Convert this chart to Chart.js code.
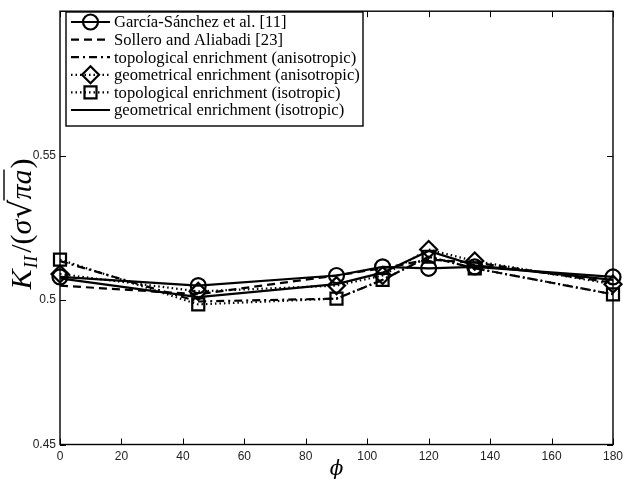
<!DOCTYPE html>
<html>
<head>
<meta charset="utf-8">
<script src="https://cdn.jsdelivr.net/npm/chart.js@4.4.1/dist/chart.umd.min.js"></script>
<style>
  html, body { margin: 0; padding: 0; background: #fff; }
  #wrap { width: 628px; height: 481px; }
</style>
</head>
<body>
<div id="wrap"><canvas id="chart"></canvas></div>
<script>
// crack angle phi and K_II / (sigma sqrt(pi a)) for each method
const phi = [0, 45, 90, 105, 120, 135, 180];
const garciaSanchez = [0.508, 0.505, 0.5085, 0.5115, 0.511, 0.5115, 0.508];
const sollero = [0.505, 0.502, 0.5085, 0.511, 0.514, 0.513, 0.506];
const topoAniso = [0.5135, 0.4995, 0.5005, 0.507, 0.515, 0.511, 0.502];
const geomAniso = [0.509, 0.503, 0.505, 0.5085, 0.5175, 0.5135, 0.5055];
const topoIso = [0.514, 0.4985, 0.5005, 0.507, 0.515, 0.511, 0.502];
const geomIso = [0.5075, 0.501, 0.5055, 0.5095, 0.517, 0.512, 0.507];

const seriesLabels = [
  "García-Sánchez et al. [11]",
  "Sollero and Aliabadi [23]",
  "topological enrichment (anisotropic)",
  "geometrical enrichment (anisotropic)",
  "topological enrichment (isotropic)",
  "geometrical enrichment (isotropic)"
];

const xTicks = [0, 20, 40, 60, 80, 100, 120, 140, 160, 180];
const yTicks = [0.45, 0.5, 0.55, 0.6];
const yTickLabels = ["0.45", "0.5", "0.55", ""];

function pts(values) {
  return phi.map((p, i) => ({ x: p, y: values[i] }));
}

function series(label, values, dash, style, radius) {
  return {
    label,
    data: pts(values),
    borderColor: "#000",
    borderWidth: 2.2,
    borderDash: dash,
    pointStyle: style || false,
    pointRadius: style ? radius : 0,
    pointBorderWidth: 2.2,
    pointBorderColor: "#000",
    pointBackgroundColor: "rgba(255,255,255,0)",
    tension: 0,
    clip: false
  };
}

const datasets = [
  series(seriesLabels[0], garciaSanchez, [], "circle", 7.5),
  series(seriesLabels[1], sollero, [8, 5], null, 0),
  series(seriesLabels[2], topoAniso, [8, 4, 2, 4], null, 0),
  series(seriesLabels[3], geomAniso, [1.5, 3], "rectRot", 8.5),
  series(seriesLabels[4], topoIso, [1.5, 3], "rect", 8.5),
  series(seriesLabels[5], geomIso, [], null, 0)
];

/* ===========================
   FRAME, LEGEND, AXIS TITLES
=========================== */

const decorPlugin = {
  id: "decor",
  afterDraw(chart) {
    const ctx = chart.ctx;
    const a = chart.chartArea;
    const xs = chart.scales.x;
    const ys = chart.scales.y;

    // box with inward ticks on all sides
    ctx.save();
    ctx.strokeStyle = "#000";
    ctx.lineWidth = 1.4;
    ctx.strokeRect(a.left, a.top, a.right - a.left, a.bottom - a.top);
    ctx.lineWidth = 1;
    ctx.beginPath();
    xTicks.forEach((t) => {
      const px = Math.round(xs.getPixelForValue(t)) + 0.5;
      ctx.moveTo(px, a.bottom); ctx.lineTo(px, a.bottom - 6);
      ctx.moveTo(px, a.top); ctx.lineTo(px, a.top + 6);
    });
    yTicks.forEach((t) => {
      const py = Math.round(ys.getPixelForValue(t)) + 0.5;
      ctx.moveTo(a.left, py); ctx.lineTo(a.left + 6, py);
      ctx.moveTo(a.right, py); ctx.lineTo(a.right - 6, py);
    });
    ctx.stroke();

    // legend
    const lx = 66, ly = 12, lw = 297, lh = 114;
    ctx.fillStyle = "#fff";
    ctx.fillRect(lx, ly, lw, lh);
    ctx.lineWidth = 1.4;
    ctx.strokeRect(lx, ly, lw, lh);

    let fs = 17;
    ctx.font = `${fs}px "Liberation Serif"`;
    const longest = Math.max(...seriesLabels.map((s) => ctx.measureText(s).width));
    fs = fs * 246 / longest;
    ctx.font = `${fs}px "Liberation Serif"`;
    ctx.textBaseline = "middle";
    ctx.textAlign = "left";

    chart.data.datasets.forEach((ds, i) => {
      const y = 22 + i * 17.6;
      ctx.strokeStyle = "#000";
      ctx.lineWidth = 2.2;
      ctx.setLineDash(ds.borderDash || []);
      ctx.beginPath();
      ctx.moveTo(71, y); ctx.lineTo(110, y);
      ctx.stroke();
      ctx.setLineDash([]);
      if (ds.pointStyle) {
        ctx.fillStyle = "rgba(255,255,255,0)";
        ctx.lineWidth = 2.2;
        Chart.helpers.drawPoint(ctx, {
          pointStyle: ds.pointStyle, radius: ds.pointRadius, borderWidth: 2.2, rotation: 0
        }, 90.5, y);
      }
      ctx.fillStyle = "#000";
      ctx.fillText(ds.label, 114, y + 1);
    });

    // y axis title: K_II / (sigma sqrt(pi a))
    ctx.save();
    ctx.translate(22, 224);
    ctx.rotate(-Math.PI / 2);
    ctx.fillStyle = "#000";
    ctx.strokeStyle = "#000";
    ctx.textBaseline = "alphabetic";
    const big = 30, small = 19;
    const parts = [
      { t: "K", f: `italic ${big}px "Liberation Serif"`, dy: 0 },
      { t: "II", f: `italic ${small}px "Liberation Serif"`, dy: 6, pad: 1 },
      { t: "/(", f: `${big}px "Liberation Serif"`, dy: 0, pad: 3 },
      { t: "σ", f: `italic ${big}px "Liberation Serif"`, dy: 0 },
      { t: "√", f: `${big}px "DejaVu Serif"`, dy: 0, pad: 1 },
      { t: "πa", f: `italic ${big}px "Liberation Serif"`, dy: 0, bar: true },
      { t: ")", f: `${big}px "Liberation Serif"`, dy: 0, pad: 1 }
    ];
    let total = 0;
    parts.forEach((p) => {
      ctx.font = p.f;
      p.w = ctx.measureText(p.t).width + (p.pad || 0);
      total += p.w;
    });
    let cx = -total / 2;
    parts.forEach((p) => {
      ctx.font = p.f;
      ctx.fillText(p.t, cx + (p.pad || 0), p.dy + 9);
      if (p.bar) {
        ctx.lineWidth = 1.4;
        ctx.beginPath();
        ctx.moveTo(cx - 1, -18);
        ctx.lineTo(cx + p.w, -18);
        ctx.stroke();
      }
      cx += p.w;
    });
    ctx.restore();

    // x axis title
    ctx.font = `italic 20px "DejaVu Serif"`;
    ctx.textAlign = "center";
    ctx.textBaseline = "middle";
    ctx.fillStyle = "#000";
    ctx.fillText("ϕ", (a.left + a.right) / 2, 470);

    ctx.restore();
  }
};

/* ===========================
   CHART
=========================== */

new Chart(document.getElementById("chart"), {
  type: "line",
  data: { datasets },
  options: {
    responsive: true,
    maintainAspectRatio: false,
    animation: false,
    layout: { padding: { left: 0, right: 11, top: 6, bottom: 0 } },
    plugins: {
      legend: { display: false },
      tooltip: { enabled: false }
    },
    scales: {
      x: {
        type: "linear",
        min: 0,
        max: 180,
        afterBuildTicks: (s) => { s.ticks = xTicks.map((v) => ({ value: v })); },
        afterFit: (s) => { s.height = 36.5; },
        grid: { display: false, drawTicks: false },
        border: { display: false },
        ticks: {
          padding: 5,
          color: "#222",
          font: { family: "Liberation Sans", size: 12 },
          maxRotation: 0,
          autoSkip: false
        }
      },
      y: {
        type: "linear",
        min: 0.45,
        max: 0.6,
        afterBuildTicks: (s) => { s.ticks = yTicks.map((v) => ({ value: v })); },
        afterFit: (s) => { s.width = 60; },
        grid: { display: false, drawTicks: false },
        border: { display: false },
        ticks: {
          padding: 4,
          color: "#222",
          font: { family: "Liberation Sans", size: 12 },
          callback: (v) => {
            const i = yTicks.findIndex((t) => Math.abs(t - v) < 1e-9);
            return i >= 0 ? yTickLabels[i] : "";
          }
        }
      }
    }
  },
  plugins: [decorPlugin]
});
</script>
</body>
</html>
